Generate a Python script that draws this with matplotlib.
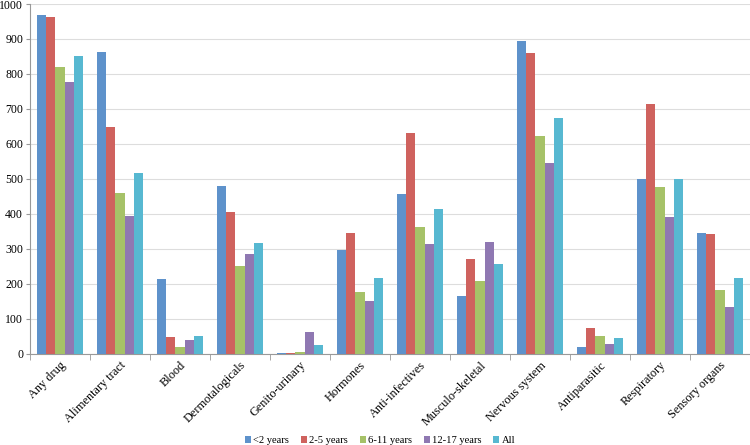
import numpy as np
import matplotlib
matplotlib.use("Agg")
import matplotlib.pyplot as plt

categories = ["Any drug", "Alimentary tract", "Blood", "Dermotalogicals", "Genito-urinary",
              "Hormones", "Anti-infectives", "Musculo-skeletal", "Nervous system",
              "Antiparasitic", "Respiratory", "Sensory organs"]
series_names = ["<2 years", "2-5 years", "6-11 years", "12-17 years", "All"]

under_2 = [969, 862, 214, 481, 2, 298, 458, 165, 894, 19, 500, 346]
age_2_5 = [962, 649, 49, 405, 3, 346, 632, 271, 859, 74, 714, 343]
age_6_11 = [821, 460, 20, 250, 4, 177, 362, 209, 623, 51, 477, 182]
age_12_17 = [777, 393, 40, 286, 62, 150, 314, 320, 545, 29, 390, 134]
all_ages = [851, 516, 51, 317, 25, 216, 413, 257, 673, 46, 500, 216]

colors = ["#5E92CB", "#CF625E", "#A6C268", "#8F78B2", "#57B8D1"]

plt.rcParams['font.family'] = ['Liberation Serif', 'DejaVu Serif']

fig = plt.figure(figsize=(7.5, 4.45), dpi=100)
ax = fig.add_axes([0.04, 0.205, 0.96, 0.786])

x = np.arange(len(categories))
width = 0.153
data = [under_2, age_2_5, age_6_11, age_12_17, all_ages]
for i, (vals, name, col) in enumerate(zip(data, series_names, colors)):
    ax.bar(x + (i - 2) * width, vals, width, color=col, label=name, zorder=3)

ax.set_xlim(-0.5, len(categories) - 0.5)
ax.set_ylim(0, 1000)
ax.set_yticks(np.arange(0, 1001, 100))
ax.grid(True, axis='y', color='#DDDDDD', linewidth=0.8, zorder=0)

ax.set_xticks(x)
ax.set_xticklabels(categories, rotation=45, ha='right', rotation_mode='anchor', fontsize=8.8)
ax.tick_params(axis='x', length=0, pad=4)
ax.set_xticks(np.arange(-0.5, len(categories), 1), minor=True)
ax.tick_params(axis='x', which='minor', length=4, color='#999999', direction='out')
ax.tick_params(axis='y', labelsize=8.5, length=3, color='#999999', pad=2)

for s in ['top', 'right']:
    ax.spines[s].set_visible(False)
ax.spines['left'].set_color('#999999')
ax.spines['bottom'].set_color('#999999')

fig.legend(loc='lower center', bbox_to_anchor=(0.507, -0.022), ncol=5, frameon=False,
           fontsize=7.6, handlelength=0.55, handleheight=0.55, handletextpad=0.25, columnspacing=1.1)

fig.savefig("out.png", dpi=100)
